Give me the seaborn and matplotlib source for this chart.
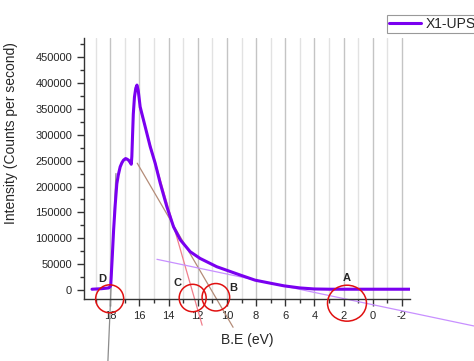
import matplotlib
matplotlib.use("Agg")
import matplotlib.pyplot as plt
from matplotlib.patches import Ellipse
from matplotlib.ticker import MultipleLocator
import seaborn as sns
import pandas as pd

# UPS spectrum
binding_energy = [19.25, 18.6, 18.1, 17.97, 17.87, 17.77, 17.66, 17.55, 17.45, 17.32,
                  17.2, 17.09, 16.95, 16.86, 16.75, 16.62, 16.56, 16.52, 16.47, 16.42,
                  16.34, 16.25, 16.17, 16.08, 15.95, 15.6, 15.26, 14.92, 14.58, 14.12,
                  13.66, 13.2, 12.52, 11.84, 10.7, 9.1, 8.07, 7.0, 6.08, 5.0,
                  4.03, 3.0, 0.0, -2.55]
intensity = [1500, 2500, 4000, 8000, 60000, 116000, 165000, 205000, 222000, 238000,
             246000, 251000, 254000, 253000, 251000, 246000, 243000, 258000, 300000, 340000,
             373000, 390000, 396000, 385000, 354000, 315000, 277000, 245000, 207000, 161000,
             122000, 97000, 74000, 61000, 45000, 29000, 19000, 13000, 8000, 4000,
             2000, 1500, 1500, 1500]

# tangent lines (end points)
grey_x, grey_y = [17.61, 18.16], [225000, -137000]
brown_x, brown_y = [16.15, 9.58], [245000, -72000]
pink_x, pink_y = [16.0, 11.7], [353000, -68000]
lilac_x, lilac_y = [14.8, -6.93], [59300, -69500]

# marked points: label, label position, circle centre and size
marks = ["D", "C", "B", "A"]
mark_text_x = [18.57, 13.39, 9.55, 1.79]
mark_text_y = [21000, 14000, 4400, 23800]
circle_x = [18.04, 12.35, 10.76, 1.77]
circle_y = [-17000, -15500, -14000, -25500]
circle_w = [1.92, 1.85, 1.89, 2.67]
circle_h = [54000, 53000, 53000, 69500]

sns.set_style("ticks")
plt.rcParams["font.family"] = ["Liberation Sans", "DejaVu Sans"]
plt.rcParams["axes.unicode_minus"] = False

df = pd.DataFrame({"B.E (eV)": binding_energy, "Intensity": intensity})

fig = plt.figure(figsize=(4.74, 3.61), dpi=100)
ax = fig.add_axes([84 / 474, 1 - 299 / 361, 326 / 474, 261 / 361])

# vertical grid, every 1 eV
for v in range(-2, 20):
    ax.axvline(v, color="#c4c4c4" if v % 2 == 0 else "#e2e2e2", lw=1, zorder=0)

sns.lineplot(data=df, x="B.E (eV)", y="Intensity", ax=ax, color="#7a00f0",
             lw=2.2, label="X1-UPS", legend=False, zorder=3)

ax.plot(grey_x, grey_y, color="#8c8c8c", lw=0.9, clip_on=False, zorder=2)
ax.plot(brown_x, brown_y, color="#b48c78", lw=0.9, clip_on=False, zorder=2)
ax.plot(pink_x, pink_y, color="#f07f8c", lw=0.9, clip_on=False, zorder=2)
ax.plot(lilac_x, lilac_y, color="#c890ff", lw=0.9, clip_on=False, zorder=2)

for lab, tx, ty, cx, cy, cw, ch in zip(marks, mark_text_x, mark_text_y,
                                       circle_x, circle_y, circle_w, circle_h):
    ax.text(tx, ty, lab, fontsize=8, fontweight="bold", ha="center", va="center")
    ax.add_patch(Ellipse((cx, cy), cw, ch, fill=False, edgecolor="#e01010",
                         lw=1.1, clip_on=False, zorder=4))

ax.set_xlim(19.8, -2.55)
ax.set_ylim(-17400, 487000)
ax.xaxis.set_major_locator(MultipleLocator(2))
ax.xaxis.set_minor_locator(MultipleLocator(1))
ax.yaxis.set_major_locator(MultipleLocator(50000))
ax.yaxis.set_minor_locator(MultipleLocator(25000))
ax.tick_params(axis="both", which="major", labelsize=8, length=5, width=1, color="#333333")
ax.tick_params(axis="both", which="minor", length=3, width=1, color="#333333")
ax.set_yticks(range(0, 450001, 50000))
ax.set_xticks([18, 16, 14, 12, 10, 8, 6, 4, 2, 0, -2])
ax.set_xlim(19.8, -2.55)
ax.set_ylim(-17400, 487000)

sns.despine(ax=ax)
for s in ["left", "bottom"]:
    ax.spines[s].set_color("#333333")
    ax.spines[s].set_linewidth(1)

ax.set_xlabel("B.E (eV)", fontsize=10)
ax.set_ylabel("Intensity (Counts per second)", fontsize=10)
ax.xaxis.set_label_coords(0.5, -0.13)
ax.yaxis.set_label_coords(-0.2025, 0.634)

handles, labels = ax.get_legend_handles_labels()
leg = fig.legend(handles, labels, loc="upper left", bbox_to_anchor=(387 / 474, 1 - 15 / 361),
                 fontsize=10, frameon=True, fancybox=False, borderpad=0.15,
                 borderaxespad=0, handlelength=2.3, handletextpad=0.3)
leg.get_frame().set_edgecolor("#808080")
leg.get_frame().set_linewidth(0.8)

fig.savefig("out.png", dpi=100)
